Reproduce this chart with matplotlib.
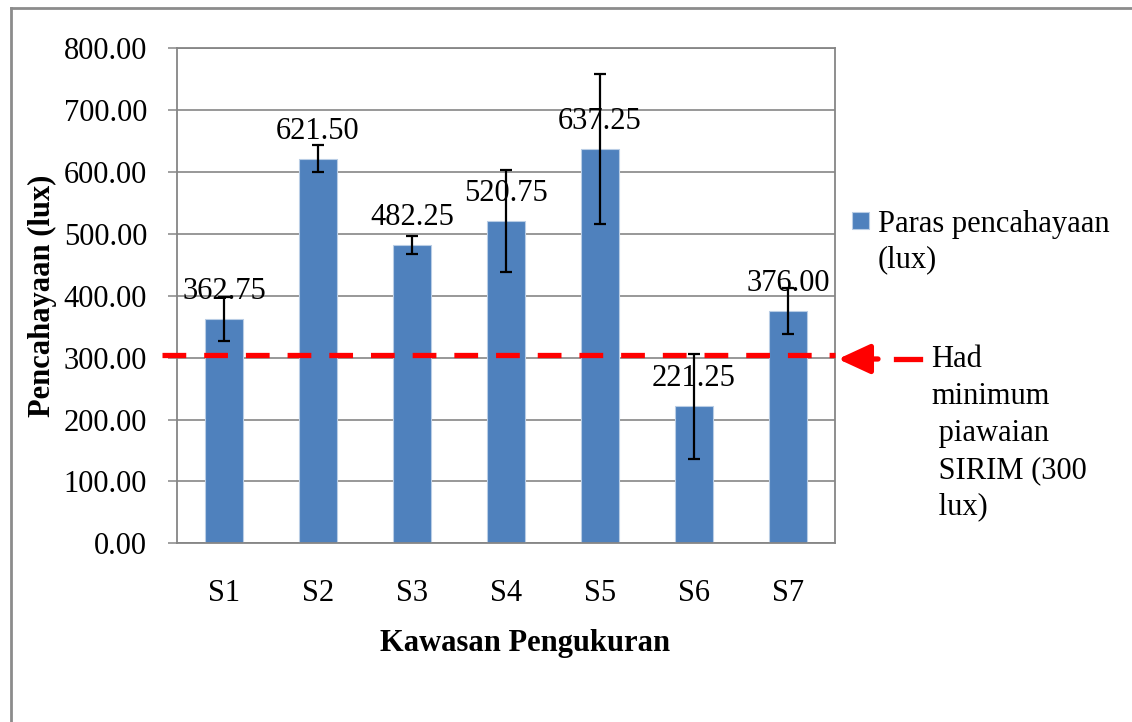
import numpy as np
import matplotlib
matplotlib.use("Agg")
import matplotlib.pyplot as plt
from matplotlib.patches import Rectangle, FancyArrowPatch
from matplotlib.lines import Line2D
from matplotlib.legend_handler import HandlerPatch
import matplotlib.transforms as mtransforms

plt.rcParams['font.family'] = ['Liberation Serif', 'DejaVu Serif']

sites = ["S1", "S2", "S3", "S4", "S5", "S6", "S7"]
lux = [362.75, 621.50, 482.25, 520.75, 637.25, 221.25, 376.00]
lux_err = [35, 22, 14, 83, 121, 85, 37]
sirim_line = 305
yticks = [0, 100, 200, 300, 400, 500, 600, 700, 800]

BAR = "#4F81BD"
GRID = "#868686"
FS = 22

W, H = 1132, 722
fig = plt.figure(figsize=(W / 100, H / 100), dpi=100)
ax = fig.add_axes([177 / W, 1 - 543.3 / H, (835 - 177) / W, (543.3 - 48.3) / H])

x = np.arange(len(sites))
bars = ax.bar(x, lux, width=0.4, color=BAR, edgecolor="#B9CDE5", linewidth=0.8, zorder=2)
ax.errorbar(x, lux, yerr=lux_err, fmt="none", ecolor="black", elinewidth=1.6,
            capsize=4.3, capthick=1.6, zorder=4)

for xi, v in zip(x, lux):
    ax.annotate(f"{v:.2f}", (xi, v), xytext=(0, 14.4), textcoords="offset points",
                ha="center", va="baseline", fontsize=FS, zorder=5)

ax.set_xlim(-0.5, len(sites) - 0.5)
ax.set_ylim(0, 800)
ax.set_yticks(yticks)
ax.set_yticklabels([f"{t:.2f}" for t in yticks])
ax.set_xticks(x)
ax.set_xticklabels(sites)
ax.tick_params(axis="y", length=6.5, width=1.1, color=GRID, pad=15, labelsize=FS)
ax.tick_params(axis="x", length=0, pad=26, labelsize=FS)
ax.yaxis.grid(True, color=GRID, linewidth=1.2, zorder=0)
ax.set_axisbelow(True)
for s in ax.spines.values():
    s.set_color(GRID)
    s.set_linewidth(1.3)

ax.set_ylabel("Pencahayaan (lux)", fontsize=FS, fontweight="bold")
ax.yaxis.set_label_coords(-0.182, 0.5)
ax.set_xlabel("Kawasan Pengukuran", fontsize=FS, fontweight="bold")
ax.xaxis.set_label_coords(0.529, -0.173)

# SIRIM minimum line, runs slightly past the left axis
trans = mtransforms.blended_transform_factory(ax.transAxes, ax.transData)
ax.add_line(Line2D([-0.023, 1.0], [sirim_line, sirim_line], transform=trans,
                   color="red", linewidth=3.8, dashes=(4.5, 3.4), clip_on=False, zorder=3))

# arrow + dash pointing at the line
ya = 1 - 359 / H
fig.add_artist(FancyArrowPatch((878 / W, ya), (838 / W, ya),
               transform=fig.transFigure, arrowstyle="-|>,head_length=1.3,head_width=0.6",
               mutation_scale=15, color="red", linewidth=3.8, shrinkA=0, shrinkB=0))
fig.add_artist(Line2D([896 / W, 920 / W], [ya, ya], transform=fig.transFigure,
                      color="red", linewidth=3.8))
fig.text(931 / W, 1 - 345 / H, "Had\nminimum\n piawaian\n SIRIM (300\n lux)",
         fontsize=FS, ha="left", va="top", linespacing=1.36)


# legend square sits beside the first line of the two-line label
def top_square(legend, orig_handle, xdescent, ydescent, width, height, fontsize):
    return Rectangle((-xdescent, -ydescent + 15.5), width, height)


h0 = bars.patches[0]
leg = ax.legend([h0], ["Paras pencahayaan\n(lux)"], loc="center left",
                bbox_to_anchor=(1.007, 0.609), frameon=False,
                fontsize=FS, handlelength=0.55, handleheight=0.5, handletextpad=0.3,
                borderaxespad=0, handler_map={h0: HandlerPatch(patch_func=top_square)})
for t in leg.get_texts():
    t.set_linespacing(1.3)

# outer chart border
fig.add_artist(Line2D([11 / W, 1], [1 - 8 / H, 1 - 8 / H], transform=fig.transFigure,
                      color="#8C8C8C", linewidth=2))
fig.add_artist(Line2D([11 / W, 11 / W], [0, 1 - 8 / H], transform=fig.transFigure,
                      color="#8C8C8C", linewidth=2))

fig.savefig("out.png", dpi=100)
